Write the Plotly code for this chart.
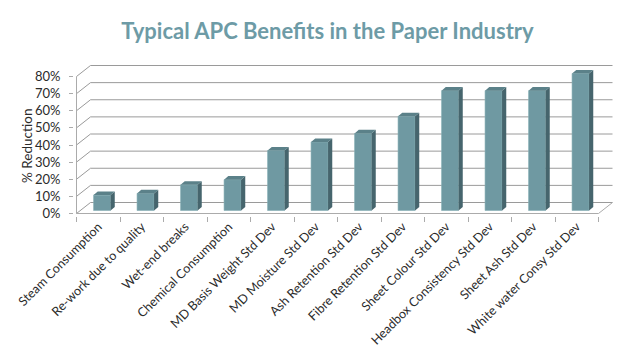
import plotly.graph_objects as go

# ---- data ----
categories = [
    "Steam Consumption", "Re-work due to quality", "Wet-end breaks",
    "Chemical Consumption", "MD Basis Weight Std Dev", "MD Moisture Std Dev",
    "Ash Retention Std Dev", "Fibre Retention Std Dev", "Sheet Colour Std Dev",
    "Headbox Consistency Std Dev", "Sheet Ash Std Dev", "White water Consy Std Dev",
]
reduction = [0.09, 0.10, 0.15, 0.18, 0.35, 0.40, 0.45, 0.55, 0.70, 0.70, 0.70, 0.80]
y_ticks = [0.0, 0.1, 0.2, 0.3, 0.4, 0.5, 0.6, 0.7, 0.8]
y_tick_labels = ["0%", "10%", "20%", "30%", "40%", "50%", "60%", "70%", "80%"]

# ---- geometry (pixel sizes converted to axis units) ----
CAT_PX = 43.5          # px per category
UNIT_PX = 171.25       # px per 1.0 (100%)
BACK_X, BACK_Y = 14 / CAT_PX, 11 / UNIT_PX        # back wall offset
SHIFT_X, SHIFT_Y = 3.8 / CAT_PX, 3 / UNIT_PX      # bar front face offset
DEPTH_X, DEPTH_Y = 4.2 / CAT_PX, 3.6 / UNIT_PX    # bar depth
BAR_W = 17 / CAT_PX

n = len(categories)
x_idx = list(range(n))
x_left, x_right = -0.5, n - 0.5
y_top = y_ticks[-1]

FRONT = "#6F99A2"
SIDE = "#46656D"
TOP = "#5B8189"
GRID = "#9A9A9A"
AXIS = "#ABABAB"
TEXT = "#2B2B2B"

# page body has an 8px default margin: work in page px, convert to figure px
OFF = 8
W, H = 629 - 2 * OFF, 356 - 2 * OFF
L, R, T, B = 74 - OFF, 618 - OFF, 60 - OFF, 216 - OFF
AX_X, AX_Y = 76.5 - OFF, 213.5 - OFF      # front axis corner (x=-0.5, y=0)
x_range = [x_left - (AX_X - L) / CAT_PX, x_left + (R - AX_X) / CAT_PX]
y_range = [-(B - AX_Y) / UNIT_PX, (AX_Y - T) / UNIT_PX]

fig = go.Figure()

# front faces of bars
fig.add_trace(go.Bar(
    x=x_idx, y=reduction, base=SHIFT_Y, width=BAR_W,
    offset=-BAR_W / 2 + SHIFT_X,
    marker=dict(color=FRONT, line=dict(width=0.6, color="#86AEB6")),
    hoverinfo="skip", showlegend=False, xaxis="x", yaxis="y",
))

# side and top faces
sx, sy, tx, ty = [], [], [], []
for i, v in zip(x_idx, reduction):
    xl = i - BAR_W / 2 + SHIFT_X
    xr = xl + BAR_W
    b = SHIFT_Y
    t = SHIFT_Y + v
    sx += [xr, xr, xr + DEPTH_X, xr + DEPTH_X, xr, None]
    sy += [b, t, t + DEPTH_Y, b + DEPTH_Y, b, None]
    tx += [xl, xr, xr + DEPTH_X, xl + DEPTH_X, xl, None]
    ty += [t, t, t + DEPTH_Y, t + DEPTH_Y, t, None]

fig.add_trace(go.Scatter(x=sx, y=sy, fill="toself", fillcolor=SIDE, mode="lines",
                         line=dict(width=0, color=SIDE), hoverinfo="skip",
                         showlegend=False, xaxis="x2", yaxis="y"))
fig.add_trace(go.Scatter(x=tx, y=ty, fill="toself", fillcolor=TOP, mode="lines",
                         line=dict(width=0, color=TOP), hoverinfo="skip",
                         showlegend=False, xaxis="x2", yaxis="y"))

# 3D frame: side wall + back wall gridlines, floor, front axis
shapes = []
for v in y_ticks:
    shapes.append(dict(
        type="path", xref="x", yref="y", layer="below",
        path=f"M {x_left},{v} L {x_left + BACK_X},{v + BACK_Y} L {x_right + BACK_X},{v + BACK_Y}",
        line=dict(color=GRID, width=1),
    ))
shapes.append(dict(type="path", xref="x", yref="y", layer="below",
                   path=f"M {x_left},0 L {x_right},0 L {x_right + BACK_X},{BACK_Y}",
                   line=dict(color=AXIS, width=1)))
shapes.append(dict(type="path", xref="x", yref="y", layer="below",
                   path=f"M {x_left},0 L {x_left},{y_top}",
                   line=dict(color=AXIS, width=1)))

font_family = "Lato, Calibri, sans-serif"

fig.update_layout(
    width=W, height=H,
    margin=dict(l=L, r=W - R, t=T, b=H - B, autoexpand=False),
    paper_bgcolor="white", plot_bgcolor="white",
    showlegend=False,
    shapes=shapes,
    title=dict(
        text="<b>Typical APC Benefits in the Paper Industry</b>",
        font=dict(family=font_family, size=22, color="#6D9BA6"),
        x=(327.5 - OFF) / W, xref="container", xanchor="center",
        y=1 - (31 - OFF) / H, yref="container", yanchor="middle",
    ),
    xaxis=dict(
        range=x_range, tickmode="array", tickvals=x_idx, ticktext=categories,
        tickangle=-45, ticks="", showgrid=False, zeroline=False, showline=False,
        automargin=False,
        tickfont=dict(family=font_family, size=12.6, color=TEXT),
    ),
    xaxis2=dict(
        range=x_range, overlaying="x", anchor="y", side="bottom",
        tickmode="array", tickvals=[k - 0.5 for k in range(n + 1)],
        ticks="outside", ticklen=5, tickcolor=AXIS, showticklabels=False,
        showgrid=False, zeroline=False, showline=False, automargin=False,
    ),
    yaxis=dict(
        range=y_range, tickmode="array", tickvals=y_ticks, ticktext=y_tick_labels,
        ticks="outside", ticklen=4, tickcolor=AXIS, showgrid=False,
        zeroline=False, showline=False, automargin=False, ticklabelstandoff=6,
        tickfont=dict(family=font_family, size=13, color=TEXT),
    ),
    annotations=[dict(
        text="% Reduction", textangle=-90, showarrow=False,
        xref="paper", yref="paper",
        x=(27 - OFF - L) / (R - L), y=(B - (146 - OFF)) / (B - T),
        xanchor="center", yanchor="middle",
        font=dict(family=font_family, size=13.5, color=TEXT),
    )],
)

fig.write_html("out.html")
